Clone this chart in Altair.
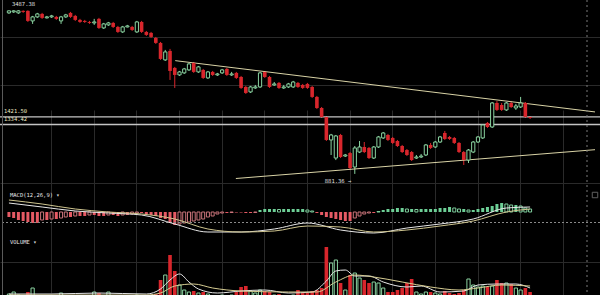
import altair as alt
import pandas as pd

# ---------------- data ----------------
opens = [3406,3434,3406,3464,3464,3184,3293,3377,3266,3293,
         3293,3184,3293,3406,3321,3211,3184,3157,3131,3239,
         3002,3079,3131,3027,2903,3027,3027,2903,3157,2903,
         2879,2760,2647,2295,2475,2146,2023,2058,2110,2238,
         2075,2110,1973,2075,2023,2058,2128,2023,2058,1989,
         1829,1754,1814,1829,2075,1989,1860,1892,1814,1829,
         1829,1892,1860,1876,1829,1682,1533,1421.5,1172,1007,
         1222,1024,1050,934,1059,1105,1096,1007,1105,1192,
         1222,1192,1162,1114,1077,1059,1007,1016,1033,1124,
         1105,1152,1243,1202,1192,1143,1059,990,1059,1152,
         1192,1352,1307,1599,1572,1508,1599,1533,1546,1599,1421.5]
closes = [3464,3464,3464,3434,3184,3293,3377,3266,3293,3321,
          3239,3293,3349,3293,3211,3157,3157,3131,3157,3002,
          3105,3131,3027,2903,3027,3053,2952,3157,2903,2831,
          2783,2647,2314,2454,2092,2023,2075,2128,2219,2075,
          2164,1973,2075,2023,2040,2110,2023,2040,1973,1814,
          1739,1829,1829,2058,1989,1829,1876,1814,1829,1876,
          1907,1829,1814,1814,1682,1533,1421.5,1172,1222,1212,
          1016,1033,926,1096,1105,1059,1007,1105,1202,1243,
          1172,1143,1114,1059,1033,990,1016,1024,1124,1096,
          1152,1202,1182,1182,1143,1059,990,1077,1152,1202,
          1329,1307,1599,1508,1508,1599,1546,1559,1599,1421.5,1410]
highs = [3480,3480,3487.38,3480,3480,3321,3406,3406,3321,3349,
         3321,3321,3377,3434,3349,3239,3211,3184,3239,3266,
         3131,3157,3157,3053,3053,3079,3053,3184,3184,2927,
         2903,2783,2669,2496,2517,2164,2092,2146,2238,2256,
         2182,2128,2092,2092,2058,2128,2146,2075,2075,2006,
         1845,1845,1860,2075,2092,2006,1907,1907,1860,1892,
         1924,1907,1876,1892,1845,1696,1546,1433,1233,1222,
         1233,1042,1059,1114,1162,1152,1105,1114,1212,1253,
         1233,1202,1172,1124,1086,1068,1033,1042,1133,1143,
         1162,1212,1264,1212,1202,1152,1068,1086,1162,1212,
         1340,1363,1612,1626,1599,1612,1626,1586,1682,1612,1433]
lows = [3377,3406,3377,3406,3157,3105,3266,3239,3250,3266,
        3211,3105,3266,3266,3184,3131,3131,3105,3079,2977,
        2977,3053,3002,2879,2879,3015,2927,2879,2879,2807,
        2760,2625,2295,2275,1940,1814,2006,2040,2092,2058,
        2058,1956,1956,2006,2006,2040,2006,2006,1956,1799,
        1725,1739,1799,1814,1973,1814,1845,1799,1799,1814,
        1814,1814,1799,1799,1668,1520,1410,1162,1033,990,
        1007,1016,910,881.36,1050,1050,999,999,1096,1182,
        1162,1133,1105,1050,1024,982,999,1007,1024,1086,
        1096,1143,1172,1172,1133,1050,950,966,1050,1143,
        1182,1296,1296,1495,1495,1495,1533,1508,1533,1410,1398]
volumes = [12,16,10,8,16,24,6,6,4,4,
           6,14,6,8,6,4,6,6,16,14,
           8,16,6,8,8,4,6,10,10,6,
           8,12,40,50,90,58,30,20,16,18,
           14,16,12,10,8,10,8,10,16,26,
           28,18,14,20,18,16,10,12,8,8,
           10,20,14,14,18,20,24,106,74,80,
           34,20,50,54,44,40,34,36,34,24,
           16,16,20,24,34,42,16,12,16,16,
           14,12,18,14,12,14,20,42,30,26,
           28,26,28,40,34,34,32,24,20,24,16]
macd_hist = [-50,-60,-80,-90,-100,-110,-110,-80,-80,-70,
             -70,-60,-50,-50,-40,-40,-40,-30,-30,-40,
             -40,-30,-30,-40,-30,-30,-20,-10,-10,-20,
             -30,-40,-60,-70,-110,-130,-120,-110,-100,-90,
             -80,-70,-50,-40,-20,-10,-10,-5,-5,-5,
             -10,-10,-5,20,30,30,30,25,30,30,
             30,30,30,20,10,-10,-30,-50,-60,-70,
             -80,-90,-90,-60,-40,-20,-10,-10,5,20,
             30,30,40,40,30,30,25,30,30,30,
             30,40,40,50,40,30,30,20,20,30,
             40,50,60,80,90,80,70,70,60,40,30]
macd_n = [1,8,15,22,29,36,43,50,57,64,71,78,85,92,99,106,111]
macd_line = [90,50,10,-10,-30,-120,-200,-200,-170,-110,-180,-210,-160,-120,-70,40,50]
signal_line = [120,80,30,0,-20,-70,-170,-200,-190,-140,-150,-200,-180,-140,-90,0,30]
volma_fast_n = [1,10,20,30,33,35,37,39,41,45,50,55,60,65,68,70,72,74,77,80,85,88,92,97,100,104,108,111]
volma_fast = [12,12,14,12,22,40,52,36,22,14,18,20,14,16,38,58,60,48,48,36,26,28,16,18,30,32,32,24]
volma_slow_n = [1,15,30,33,36,40,44,50,60,66,70,74,78,84,90,96,100,105,111]
volma_slow = [10,10,10,14,28,32,24,18,16,16,36,50,46,36,26,20,24,30,28]
trend_upper_n = [36.1, 124.7]
trend_upper_p = [2281, 1483]
trend_lower_n = [48.9, 124.7]
trend_lower_p = [848, 1080]
level_prices = [1421.50, 1334.42]
level_labels = ["1421.50", "1334.42"]
macd_dash_level = [-105]
grid_n = [9.9, 18.9, 27.9, 36.9, 45.9, 54.9, 63.9, 72.9, 81.9, 90.9, 99.9, 108.9, 117.9]
grid_price = [2783, 1860]
grid_macd = [290, -230]
grid_vol = [76]

# ---------------- styling ----------------
RED = "#d8262c"
GREEN = "#8ad3a0"
GRID = "#2a2a2a"
BG = "#000000"
FONT = "DejaVu Sans Mono"

n_idx = list(range(1, len(opens) + 1))
dirs = ["up" if c >= o else "down" for o, c in zip(opens, closes)]
kinds = []
for i, h in enumerate(macd_hist):
    prev = macd_hist[i - 1] if i > 0 else h
    filled = abs(h) >= abs(prev)
    kinds.append(("pos" if h >= 0 else "neg") + ("_fill" if filled else "_hollow"))

df = pd.DataFrame({"n": n_idx, "open": opens, "high": highs, "low": lows,
                   "close": closes, "volume": volumes, "hist": macd_hist,
                   "dir": dirs, "kind": kinds})
macd_df = pd.DataFrame({"n": macd_n, "macd": macd_line, "signal": signal_line})
vf_df = pd.DataFrame({"n": volma_fast_n, "v": volma_fast})
vs_df = pd.DataFrame({"n": volma_slow_n, "v": volma_slow})
tu_df = pd.DataFrame({"n": trend_upper_n, "p": trend_upper_p})
tl_df = pd.DataFrame({"n": trend_lower_n, "p": trend_lower_p})
lv_df = pd.DataFrame({"p": level_prices, "label": level_labels})
md_df = pd.DataFrame({"v": macd_dash_level})

xs = alt.Scale(domain=[0.17, 124.7], nice=False, zero=False)
x_axis = alt.Axis(values=grid_n, grid=True, gridColor=GRID, gridWidth=1,
                  labels=False, ticks=False, domain=False, title=None)
ps = alt.Scale(type="log", domain=[803, 3795], range=[185, 0], nice=False)
ms = alt.Scale(domain=[-200, 300], range=[232, 182], nice=False, zero=False)
vs = alt.Scale(domain=[0, 120], range=[300, 240], nice=False, zero=False)


def X(field="n"):
    return alt.X(f"{field}:Q", scale=xs, axis=x_axis, title=None)


def grid_axis(vals):
    return alt.Axis(values=vals, grid=True, gridColor=GRID, gridWidth=1,
                    labels=False, ticks=False, domain=False, title=None)


dir_color = alt.Color("dir:N", scale=alt.Scale(domain=["up", "down"], range=[GREEN, RED]), legend=None)

base = alt.Chart(df)

# price panel
wicks = base.mark_rule(strokeWidth=1).encode(
    x=X(), y=alt.Y("low:Q", scale=ps, axis=grid_axis(grid_price)), y2="high:Q", color=dir_color)
down_body = base.transform_filter("datum.close < datum.open").mark_bar(width=3.6, color=RED).encode(
    x=X(), y=alt.Y("open:Q", scale=ps, axis=None), y2="close:Q")
up_body = base.transform_filter("datum.close >= datum.open").mark_bar(
    width=3.2, fill=BG, stroke=GREEN, strokeWidth=1).encode(
    x=X(), y=alt.Y("close:Q", scale=ps, axis=None), y2="open:Q")
levels = alt.Chart(lv_df).mark_rule(color="#c4c4c4", strokeWidth=1.3).encode(
    y=alt.Y("p:Q", scale=ps, axis=None))
level_text = alt.Chart(lv_df).mark_text(align="left", baseline="alphabetic", dy=-4,
                                        font=FONT, fontSize=5.5, color="#efe9c2").encode(
    x=alt.value(4), y=alt.Y("p:Q", scale=ps, axis=None), text="label:N")
trend_u = alt.Chart(tu_df).mark_line(color="#d9d3a6", strokeWidth=1).encode(
    x=X(), y=alt.Y("p:Q", scale=ps, axis=None))
trend_l = alt.Chart(tl_df).mark_line(color="#d9d3a6", strokeWidth=1).encode(
    x=X(), y=alt.Y("p:Q", scale=ps, axis=None))
hi_text = base.transform_filter("datum.high == 3487.38").mark_text(
    align="left", baseline="alphabetic", dx=-6.5, dy=-4.5, font=FONT, fontSize=5.5, color="#e0e0e0").encode(
    x=X(), y=alt.Y("high:Q", scale=ps, axis=None), text=alt.value("3487.38"))
lo_text = base.transform_filter("datum.low == 881.36").mark_text(
    align="right", baseline="alphabetic", dx=-3.5, dy=9, font=FONT, fontSize=5.5, color="#e0e0e0").encode(
    x=X(), y=alt.Y("low:Q", scale=ps, axis=None), text=alt.value("881.36 →"))

# MACD panel
hist_styles = {
    "neg_fill": dict(color="#e65a64"),
    "neg_hollow": dict(fill=BG, stroke="#c9747a", strokeWidth=1),
    "pos_fill": dict(color="#6dcf96"),
    "pos_hollow": dict(fill=BG, stroke="#7fcf9e", strokeWidth=1),
}
hist_layers = []
first = True
for k, sty in hist_styles.items():
    hist_layers.append(
        base.transform_filter(f"datum.kind == '{k}'").mark_bar(width=3, **sty).encode(
            x=X(), y=alt.Y("hist:Q", scale=ms, axis=grid_axis(grid_macd) if first else None),
            y2=alt.datum(0)))
    first = False
macd_dash = alt.Chart(md_df).mark_rule(color="#8a8a8a", strokeWidth=1, strokeDash=[2, 2]).encode(
    y=alt.Y("v:Q", scale=ms, axis=None))
macd_l = alt.Chart(macd_df).mark_line(color="#e8e8e8", strokeWidth=1, interpolate="monotone").encode(
    x=X(), y=alt.Y("macd:Q", scale=ms, axis=None))
signal_l = alt.Chart(macd_df).mark_line(color="#cfc58f", strokeWidth=1, interpolate="monotone").encode(
    x=X(), y=alt.Y("signal:Q", scale=ms, axis=None))

# volume panel
vol_down = base.transform_filter("datum.close < datum.open").mark_bar(width=3.6, color=RED).encode(
    x=X(), y=alt.Y("volume:Q", scale=vs, axis=grid_axis(grid_vol)), y2=alt.datum(0))
vol_up = base.transform_filter("datum.close >= datum.open").mark_bar(
    width=3.2, fill=BG, stroke=GREEN, strokeWidth=1).encode(
    x=X(), y=alt.Y("volume:Q", scale=vs, axis=None), y2=alt.datum(0))
vma_f = alt.Chart(vf_df).mark_line(color="#e8e8e8", strokeWidth=1, interpolate="monotone").encode(
    x=X(), y=alt.Y("v:Q", scale=vs, axis=None))
vma_s = alt.Chart(vs_df).mark_line(color="#d6cc92", strokeWidth=1, interpolate="monotone").encode(
    x=X(), y=alt.Y("v:Q", scale=vs, axis=None))

# frame decorations and panel titles
deco = alt.Chart(pd.DataFrame({"k": [0]}))
left_line = deco.mark_rule(color="#5a5a5a", strokeWidth=1).encode(
    x=alt.value(2.5), y=alt.value(0), y2=alt.value(295))
now_line = deco.mark_rule(color="#7a7a7a", strokeWidth=1, strokeDash=[2, 3]).encode(
    x=alt.value(587), y=alt.value(0), y2=alt.value(295))
icon = deco.mark_square(filled=False, size=30, color="#8a8a8a", strokeWidth=1).encode(
    x=alt.value(595), y=alt.value(195))
macd_title = deco.mark_text(align="left", baseline="alphabetic", font=FONT, fontSize=5.5,
                            color="#e6e6e6").encode(x=alt.value(10), y=alt.value(197),
                                                    text=alt.value("MACD(12,26,9) ▾"))
vol_title = deco.mark_text(align="left", baseline="alphabetic", font=FONT, fontSize=5.5,
                           color="#e6e6e6").encode(x=alt.value(10), y=alt.value(244),
                                                   text=alt.value("VOLUME ▾"))

chart = alt.layer(
    wicks, levels, trend_u, trend_l, down_body, up_body, level_text, hi_text, lo_text,
    *hist_layers, macd_dash, macd_l, signal_l,
    vol_down, vol_up, vma_f, vma_s,
    left_line, now_line, icon, macd_title, vol_title,
).resolve_scale(y="independent").properties(
    width=600, height=295, background=BG, padding=0,
    autosize=alt.AutoSizeParams(type="none"),
).configure_view(stroke=None)

chart.save("out.html", embed_options={"renderer": "svg", "actions": False})
